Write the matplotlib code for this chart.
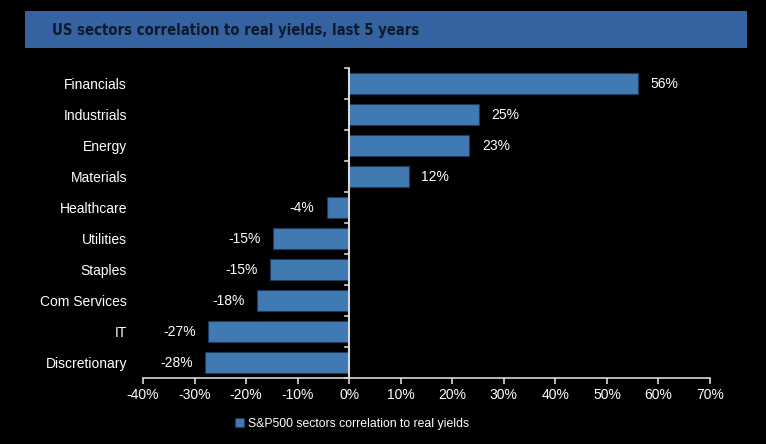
import matplotlib
matplotlib.use("Agg")
import matplotlib.pyplot as plt
from matplotlib.patches import Rectangle
from matplotlib.ticker import FuncFormatter, MultipleLocator
import numpy as np

categories = ["Financials", "Industrials", "Energy", "Materials", "Healthcare",
              "Utilities", "Staples", "Com Services", "IT", "Discretionary"]
value_labels = ["56%", "25%", "23%", "12%", "-4%", "-15%", "-15%", "-18%", "-27%", "-28%"]
bar_lengths = [56.0, 25.2, 23.3, 11.6, -4.3, -14.7, -15.3, -17.8, -27.3, -27.9]
title = "US sectors correlation to real yields, last 5 years"
legend_label = "S&P500 sectors correlation to real yields"

plt.rcParams['font.family'] = ['Liberation Sans', 'DejaVu Sans']
fig = plt.figure(figsize=(7.66, 4.44), dpi=100, facecolor='black')
ax = fig.add_axes([143/766, 1-378/444, (710-143)/766, (378-68)/444])
ax.set_facecolor('black')

y = np.arange(len(categories))
bars = ax.barh(y, bar_lengths, height=0.68, color='#4179B3', edgecolor='#1E3A5C',
               linewidth=0.8, label=legend_label, zorder=2)
for yi, v, lab in zip(y, bar_lengths, value_labels):
    if v >= 0:
        ax.annotate(lab, (v, yi), xytext=(9, 0), textcoords='offset points',
                    ha='left', va='center', color='white', fontsize=10)
    else:
        ax.annotate(lab, (v, yi), xytext=(-9, 0), textcoords='offset points',
                    ha='right', va='center', color='white', fontsize=10)

ax.set_xlim(-40, 70)
ax.set_ylim(len(categories)-0.5, -0.5)
ax.xaxis.set_major_locator(MultipleLocator(10))
ax.xaxis.set_major_formatter(FuncFormatter(lambda v, p: f"{v:.0f}%"))

for s in ['top', 'right', 'left']:
    ax.spines[s].set_visible(False)
ax.spines['bottom'].set_color('#d9d9d9')
ax.spines['bottom'].set_linewidth(1.2)

# y axis at zero
ax.axvline(0, color='#d9d9d9', lw=1.5, zorder=3)
ax.set_yticks(y)
ax.set_yticklabels(categories)
ax.tick_params(axis='y', length=0, pad=11.5, labelcolor='white', labelsize=10)
for yb in np.arange(-0.5, len(categories), 1.0):
    ax.plot([-0.8, 0], [yb, yb], color='#d9d9d9', lw=1.2, zorder=3, clip_on=False)
ax.tick_params(axis='x', colors='#d9d9d9', labelcolor='white', labelsize=10,
               length=4, width=1.2, pad=3)

leg = fig.legend(handles=[bars], labels=[legend_label], loc='center',
                 bbox_to_anchor=(352/766, 1-424/444), frameon=False,
                 fontsize=8.8, labelcolor='white', handlelength=0.75, handleheight=0.75,
                 handletextpad=0.35)

fig.patches.append(Rectangle((25/766, 1-48/444), 722/766, 37/444, transform=fig.transFigure,
                             facecolor='#3562A0', edgecolor='none', zorder=0))
fig.text(52/766, 1-30/444, title, color='#0E1A2C', fontsize=10.6,
         family='DejaVu Sans', fontstretch='condensed', weight='bold',
         ha='left', va='center')

fig.savefig('out.png', dpi=100, facecolor='black')
